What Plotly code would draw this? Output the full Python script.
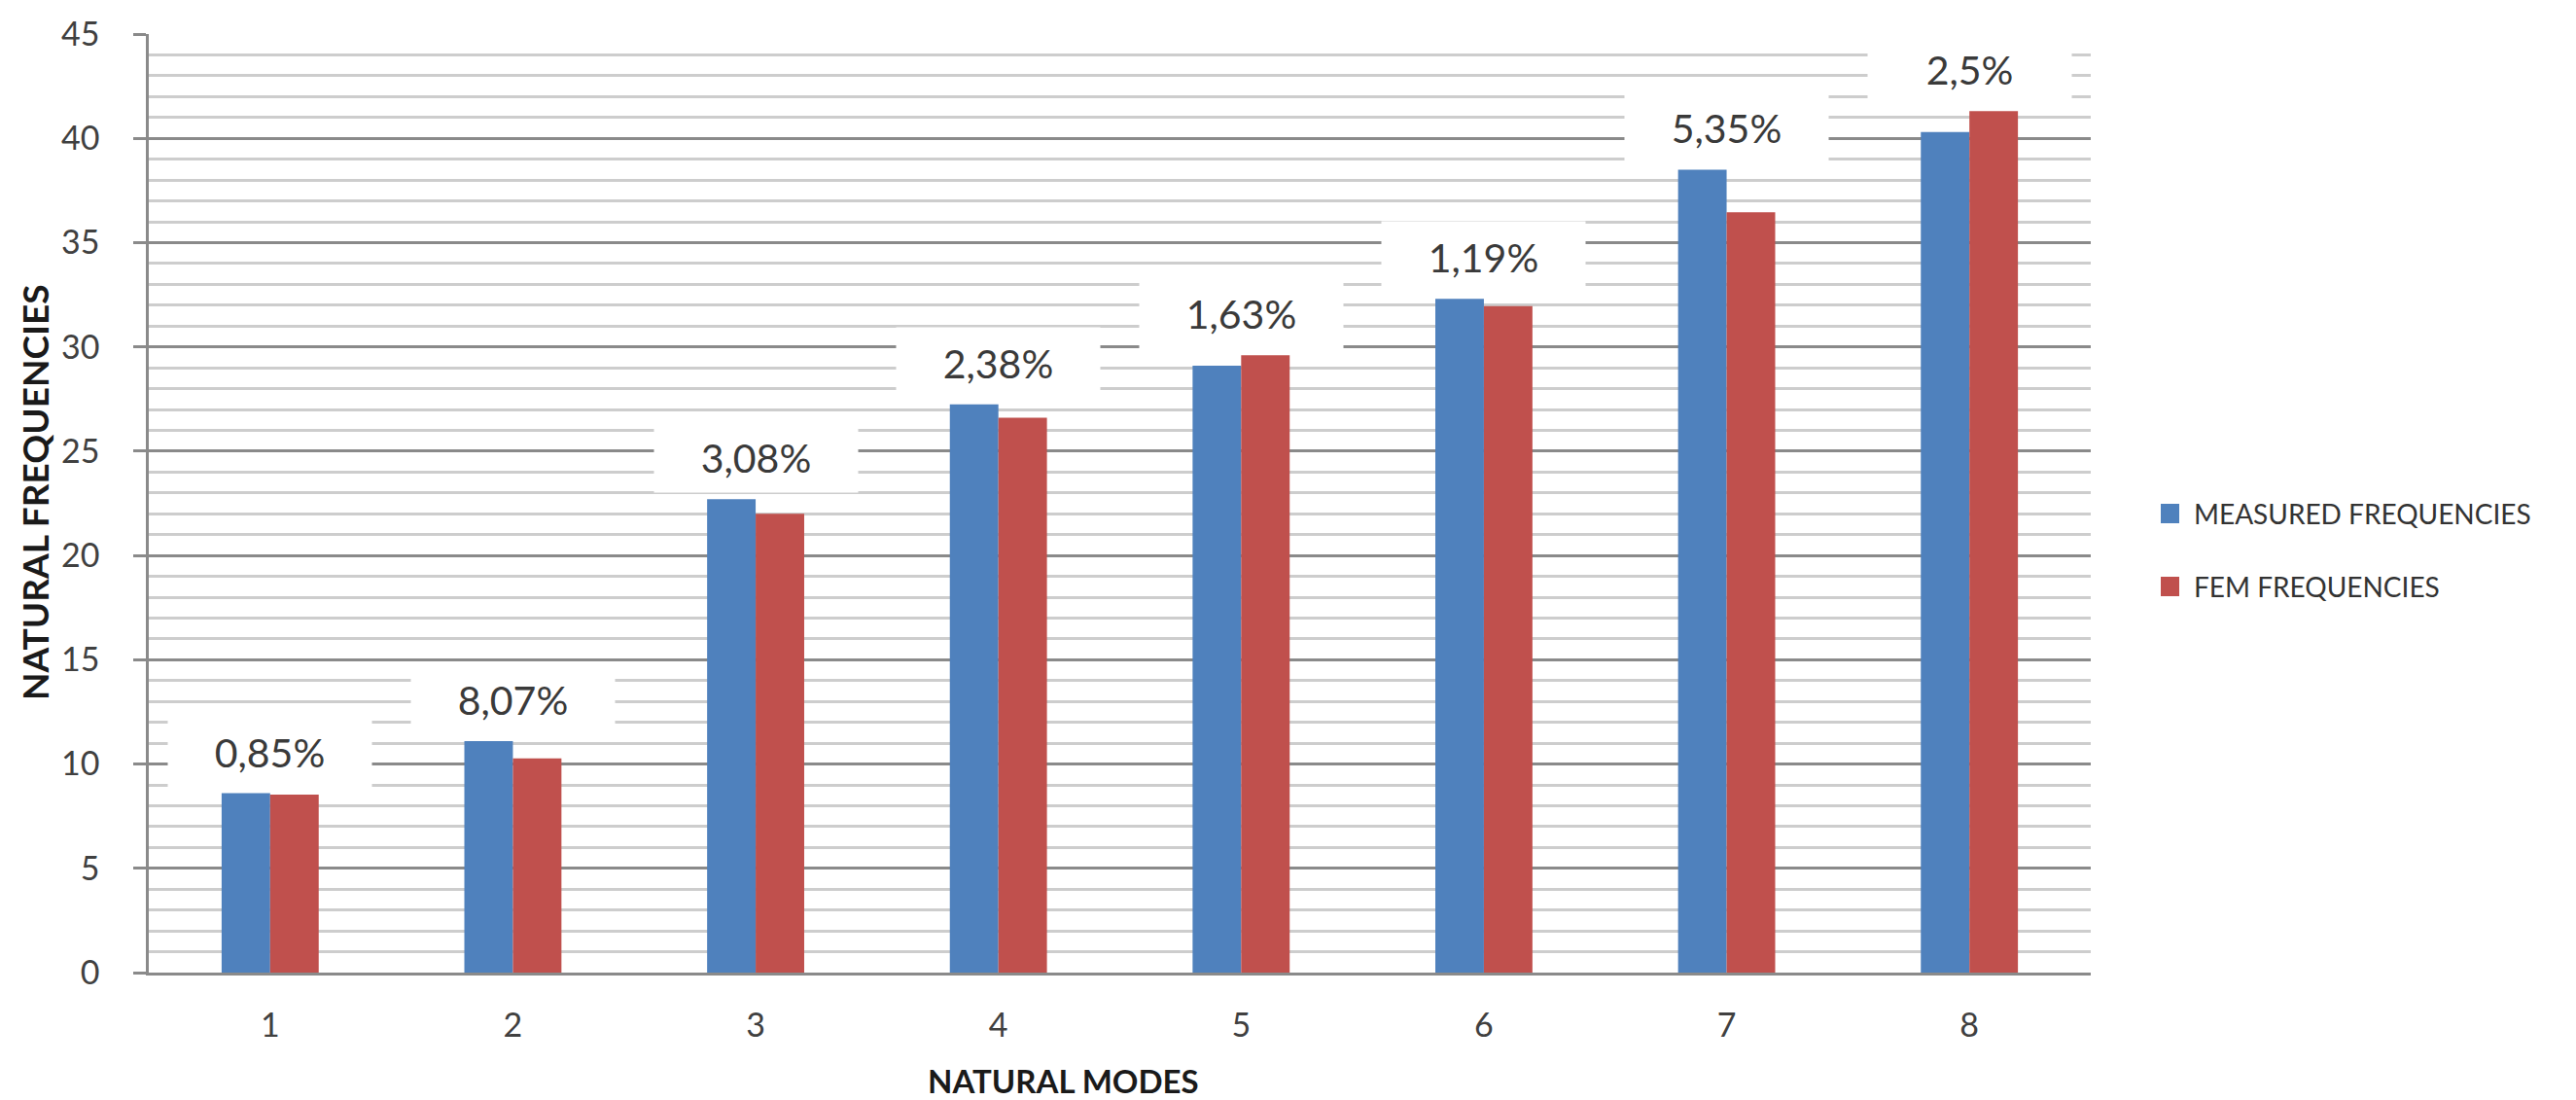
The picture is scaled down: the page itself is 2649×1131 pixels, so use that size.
import plotly.graph_objects as go

# Natural modes and the two sets of natural frequencies
modes = ["1", "2", "3", "4", "5", "6", "7", "8"]
measured = [8.6, 11.1, 22.7, 27.25, 29.1, 32.3, 38.5, 40.3]
fem = [8.53, 10.27, 22.0, 26.6, 29.6, 31.95, 36.45, 41.3]
# Relative difference between measured and FEM values for each mode
differences = ["0,85%", "8,07%", "3,08%", "2,38%", "1,63%", "1,19%", "5,35%", "2,5%"]
y_ticks = [0, 5, 10, 15, 20, 25, 30, 35, 40, 45]

BLUE = "#4F81BD"
RED = "#C0504D"
FONT = "Lato"

W, H = 2649, 1131
ML, MR, MT, MB = 153, 499, 35, 131
PW, PH = W - ML - MR, H - MT - MB


def px_to_paper(px, py):
    return (px - ML) / PW, (H - MB - py) / PH


fig = go.Figure()
fig.add_trace(go.Bar(x=modes, y=measured, name="MEASURED FREQUENCIES",
                     marker=dict(color=BLUE, line=dict(width=0)), showlegend=False))
fig.add_trace(go.Bar(x=modes, y=fem, name="FEM FREQUENCIES",
                     marker=dict(color=RED, line=dict(width=0)), showlegend=False))

# Percentage labels on white boxes above each pair of bars
# (category positions are given by index so "1".."8" are not read as indices)
for i, (a, b, txt) in enumerate(zip(measured, fem, differences)):
    fig.add_annotation(x=i, y=max(a, b), yref="y", xref="x", text=txt,
                       showarrow=False, yanchor="middle", yshift=43,
                       width=207, height=70, bgcolor="white",
                       font=dict(family=FONT, size=41, color="#3a3a3a"))

# Legend drawn as coloured squares with labels to the right of the plot
legend_items = [("MEASURED FREQUENCIES", BLUE, 528), ("FEM FREQUENCIES", RED, 603)]
for label, color, cy in legend_items:
    x0, y0 = px_to_paper(2222, cy + 10)
    x1, y1 = px_to_paper(2241, cy - 10)
    fig.add_shape(type="rect", xref="paper", yref="paper", x0=x0, x1=x1, y0=y0, y1=y1,
                  fillcolor=color, line=dict(width=0))
    tx, ty = px_to_paper(2254, cy)
    fig.add_annotation(x=tx, y=ty, xref="paper", yref="paper", text=label,
                       showarrow=False, xanchor="left", yanchor="middle",
                       font=dict(family=FONT, size=28, color="#333333"))

# Axis titles
tx, ty = px_to_paper(1093, 1111)
fig.add_annotation(x=tx, y=ty, xref="paper", yref="paper", text="<b>NATURAL MODES</b>",
                   showarrow=False, xanchor="center", yanchor="middle",
                   font=dict(family=FONT, size=33, color="#1a1a1a"))
tx, ty = px_to_paper(35, 507)
fig.add_annotation(x=tx, y=ty, xref="paper", yref="paper", text="<b>NATURAL FREQUENCIES</b>",
                   showarrow=False, xanchor="center", yanchor="middle", textangle=-90,
                   font=dict(family=FONT, size=37, color="#1a1a1a"))

fig.update_layout(
    width=W, height=H,
    margin=dict(l=ML, r=MR, t=MT, b=MB),
    paper_bgcolor="white", plot_bgcolor="white",
    barmode="group", bargap=0.6, bargroupgap=0,
    font=dict(family=FONT, color="#404040"),
    xaxis=dict(
        type="category", showgrid=False, ticks="", zeroline=False,
        showline=True, linecolor="#8a8a8a", linewidth=2.5,
        tickfont=dict(family=FONT, size=34, color="#404040"),
        ticklabelstandoff=22,
    ),
    yaxis=dict(
        range=[0, 45], tickvals=y_ticks, ticktext=[str(v) for v in y_ticks],
        ticks="outside", ticklen=13, tickwidth=2.5, tickcolor="#8a8a8a",
        showline=True, linecolor="#8a8a8a", linewidth=2.5,
        showgrid=True, gridcolor="#8a8a8a", gridwidth=2.5, zeroline=False,
        minor=dict(dtick=1, showgrid=True, gridcolor="#cdcdcd", gridwidth=2.5, ticks=""),
        tickfont=dict(family=FONT, size=34, color="#404040"),
        ticklabelstandoff=28,
    ),
)

fig.write_html("out.html")
